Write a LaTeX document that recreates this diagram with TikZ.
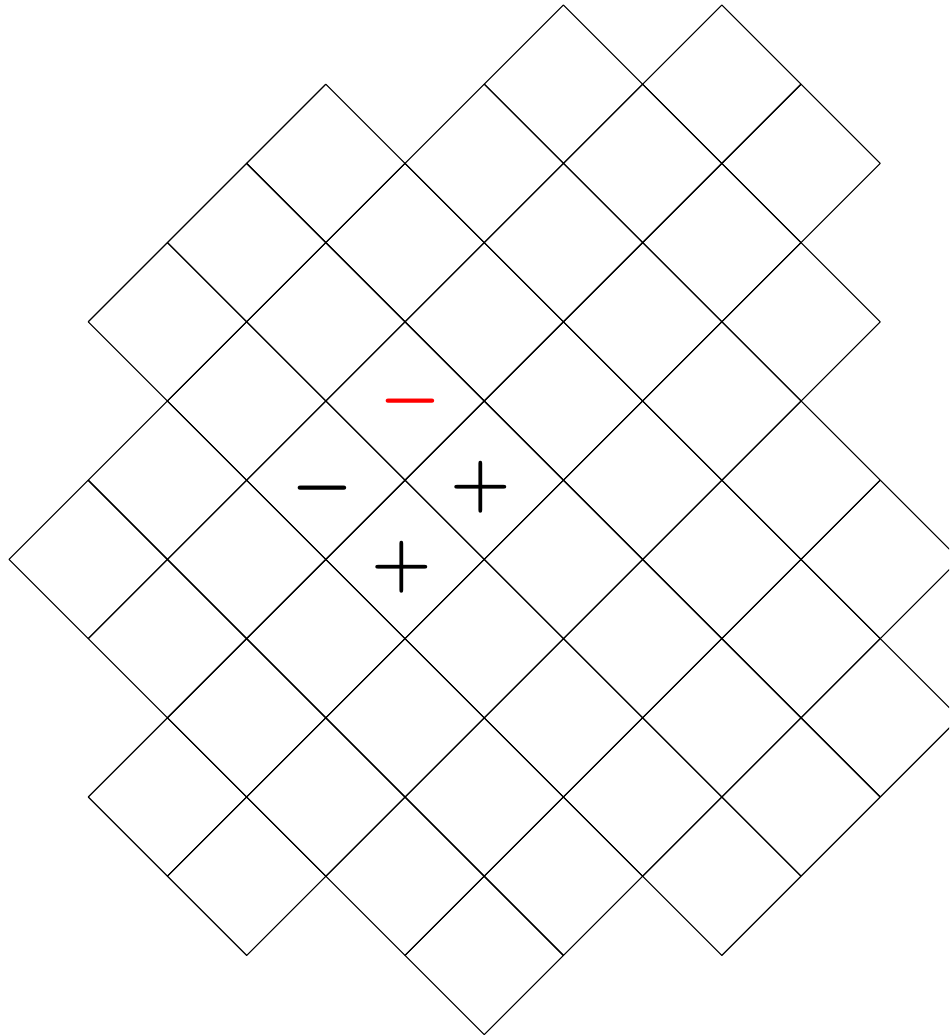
\documentclass[tikz,border=0pt]{standalone}
\begin{document}
\begin{tikzpicture}[line cap=round, line join=round, thin]
	\tikzset{sign/.style={inner sep=0pt, font=\fontsize{31}{34}\selectfont\boldmath}}
	\clip (-0.114,0.063) rectangle (11.869,-13.005);
	\foreach \j/\cells in {1/{7,9}, 2/{4,6,8,10}, 3/{3,5,7,9}, 4/{2,4,6,8,10}, 5/{3,5,7,9}, 6/{2,4,6,8,10}, 7/{1,3,5,7,9,11}, 8/{2,4,6,8,10}, 9/{3,5,7,9,11}, 10/{2,4,6,8,10}, 11/{3,5,7,9}, 12/{6}}
	{
		\foreach \i in \cells
			\draw (\i-1,-\j) -- (\i,-\j+1) -- (\i+1,-\j) -- (\i,-\j-1) -- cycle;
	}
	\node[sign, red] (top) at (5.063,-4.999) {$-$};
	\node[sign] (left) at (3.952,-6.098) {$-$};
	\node[sign] (right) at (5.96,-6.086) {$+$};
	\node[sign] (bottom) at (4.962,-7.096) {$+$};
\end{tikzpicture}
\end{document}
